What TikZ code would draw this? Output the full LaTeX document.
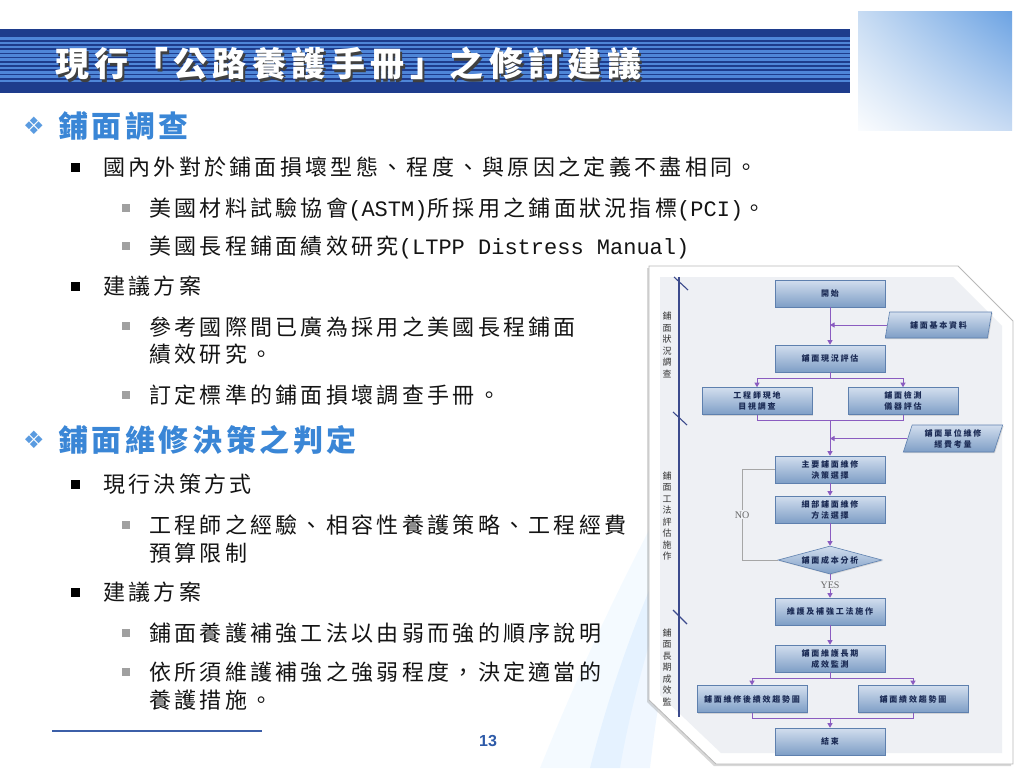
\documentclass[tikz,border=0pt]{standalone}
\usepackage{fontspec}
\usetikzlibrary{arrows.meta,shapes.geometric,shadows,shadings,calc}
\setmainfont{Noto Sans CJK TC}
\newfontfamily\bodyf{Noto Sans CJK TC}[LetterSpace=15]
\newfontfamily\headf{Noto Sans CJK TC}[LetterSpace=12]
\newfontfamily\titlef{Noto Sans CJK TC}[LetterSpace=16]
\newfontfamily\flowf{Noto Sans CJK TC}[LetterSpace=22]
\newfontfamily\monof{Liberation Mono}
\newfontfamily\serf{Liberation Serif}
\newfontfamily\djf{DejaVu Sans}
\newfontfamily\numf{Liberation Sans}
\definecolor{titleblue}{HTML}{1E3C8C}
\definecolor{stripe}{HTML}{4F86D8}
\definecolor{headblue}{HTML}{3A86D6}
\definecolor{bulletblue}{HTML}{5A9BE0}
\definecolor{boxtop}{HTML}{D2DEEE}
\definecolor{boxbot}{HTML}{7E9EC6}
\definecolor{boxline}{HTML}{5E80AE}
\definecolor{flowtext}{HTML}{1B2B55}
\definecolor{flowarrow}{HTML}{8A5CC0}
\definecolor{panel}{HTML}{EEF0F4}
\definecolor{lanecol}{HTML}{3B4A8C}
\definecolor{lineblue}{HTML}{3C5FA8}
\definecolor{numblue}{HTML}{2D5AA8}
\definecolor{bodytext}{HTML}{141414}
\definecolor{graybullet}{HTML}{A0A0A0}
\definecolor{gul}{HTML}{C8DCF3}
\definecolor{gur}{HTML}{6CA3E3}
\definecolor{gll}{HTML}{FAFCFE}
\definecolor{glr}{HTML}{C8DBF3}
\begin{document}
\begin{tikzpicture}[x=1pt,y=-1pt,
  body/.style={anchor=base west, inner sep=0pt, align=left, text=bodytext,
    font=\bodyf\fontsize{22}{27.5}\selectfont},
  head/.style={anchor=base west, inner sep=0pt, text=headblue,
    font=\headf\bfseries\fontsize{30}{30}\selectfont},
  hbullet/.style={inner sep=0pt, text=bulletblue, font=\djf\fontsize{24}{24}\selectfont},
  bbullet/.style={fill=black, minimum size=9pt, inner sep=0pt},
  gbullet/.style={fill=graybullet, minimum size=7.5pt, inner sep=0pt},
  fbox/.style={rectangle, draw=boxline, line width=0.6pt, top color=boxtop, bottom color=boxbot,
    minimum width=110pt, minimum height=27pt, inner sep=0pt, align=center, text=flowtext,
    font=\flowf\bfseries\fontsize{8}{11}\selectfont,
    drop shadow={opacity=0.25, shadow xshift=1pt, shadow yshift=-1pt}},
  fpara/.style={fbox, trapezium, trapezium left angle=72, trapezium right angle=108,
    trapezium stretches=true, minimum height=26pt},
  fdiam/.style={fbox, diamond, aspect=3.7, minimum width=104pt, minimum height=28pt},
  flowline/.style={draw=flowarrow, line width=0.9pt},
  flow/.style={flowline, -{Triangle[width=5pt,length=4.5pt]}},
  noline/.style={draw=gray!70, line width=0.9pt},
  cond/.style={fill=panel, inner sep=1pt, text=gray!80!black, font=\serf\fontsize{10}{10}\selectfont},
  lanetext/.style={align=center, inner sep=0pt, text=black!80, font=\fontsize{9}{11.5}\selectfont},
  lane/.style={draw=lanecol, line width=1.1pt}]
\useasboundingbox (0,0) rectangle (1024,768);
\fill[white] (0,0) rectangle (1024,768);
% faint background swoosh
\fill[blue!40!cyan, opacity=0.045] (540,768) .. controls (600,620) and (660,500) .. (730,390) .. controls (690,520) and (640,650) .. (620,768) -- cycle;
\fill[blue!50!cyan, opacity=0.06] (590,768) .. controls (620,650) and (660,560) .. (700,480) .. controls (680,580) and (660,680) .. (650,768) -- cycle;
% title bar
\fill[titleblue] (0,29) rectangle (850,93);
\foreach \k in {0,...,10} \fill[stripe] (0,{37.5+4.2*\k}) rectangle (850,{40+4.2*\k});
% top right gradient box
\shade[upper left=gul, upper right=gur, lower left=gll, lower right=glr] (858,12) rectangle (1012,130);
% title
\node[anchor=base west, inner sep=0pt, text=black!75, font=\titlef\bfseries\fontsize{34}{34}\selectfont] (titleshadow) at (57,79) {現行「公路養護手冊」之修訂建議};
\node[anchor=base west, inner sep=0pt, text=white, font=\titlef\bfseries\fontsize{34}{34}\selectfont] (title) at (55,77) {現行「公路養護手冊」之修訂建議};
% section 1
\node[hbullet] (hb1) at (34,126) {❖};
\node[head] (h1) at (58,137) {鋪面調查};
\node[bbullet] (b1) at (75,167) {};
\node[body] (t1) at (103,175.5) {國內外對於鋪面損壞型態、程度、與原因之定義不盡相同。};
\node[gbullet] (b2) at (126,208) {};
\node[body] (t2) at (149,216.5) {美國材料試驗協會{\monof(ASTM)}所採用之鋪面狀況指標{\monof(PCI)}。};
\node[gbullet] (b3) at (126,246) {};
\node[body] (t3) at (149,254.5) {美國長程鋪面績效研究{\monof(LTPP Distress Manual)}};
\node[bbullet] (b4) at (75,286) {};
\node[body] (t4) at (103,294.5) {建議方案};
\node[gbullet] (b5) at (126,326) {};
\node[body] (t5) at (149,362.5) {參考國際間已廣為採用之美國長程鋪面\\績效研究。};
\node[gbullet] (b6) at (126,395) {};
\node[body] (t6) at (149,403.5) {訂定標準的鋪面損壞調查手冊。};
% section 2
\node[hbullet] (hb2) at (34,440) {❖};
\node[head] (h2) at (58,451) {鋪面維修決策之判定};
\node[bbullet] (b7) at (75,484) {};
\node[body] (t7) at (103,492.5) {現行決策方式};
\node[gbullet] (b8) at (126,525) {};
\node[body] (t8) at (149,561) {工程師之經驗、相容性養護策略、工程經費\\預算限制};
\node[bbullet] (b9) at (75,592) {};
\node[body] (t9) at (103,600.5) {建議方案};
\node[gbullet] (b10) at (126,633) {};
\node[body] (t10) at (149,641.5) {鋪面養護補強工法以由弱而強的順序說明};
\node[gbullet] (b11) at (126,672) {};
\node[body] (t11) at (149,708) {依所須維護補強之強弱程度，決定適當的\\養護措施。};
% footer
\draw[lineblue, line width=1.2pt] (52,731) -- (262,731);
\node[inner sep=0pt, text=numblue, font=\numf\bfseries\fontsize{16}{16}\selectfont] (pnum) at (488,741) {13};
% flowchart frame
\filldraw[fill=white, draw=gray!55, line width=0.8pt, drop shadow={opacity=0.3, shadow xshift=-2pt, shadow yshift=-2pt}]
  (649,266) -- (958,266) -- (1013,321) -- (1013,764) -- (716,764) -- (649,700) -- cycle;
\fill[panel] (660,277) -- (953,277) -- (1002,326) -- (1002,753) -- (721,753) -- (660,695) -- cycle;
% lanes
\draw[lane] (679,277) -- (679,717);
\draw[lane] (674,277) -- (688,290);
\draw[lane] (673,412) -- (687,425);
\draw[lane] (673,610) -- (687,624);
\node[lanetext] (lane1) at (667,345) {鋪\\面\\狀\\況\\調\\查};
\node[lanetext] (lane2) at (667,516) {鋪\\面\\工\\法\\評\\估\\施\\作};
\node[lanetext] (lane3) at (667,667) {鋪\\面\\長\\期\\成\\效\\監};
% flow nodes
\node[fbox] (start) at (830,293.5) {開始};
\node[fpara, minimum width=107pt] (base) at (938.5,325) {鋪面基本資料};
\node[fbox] (assess) at (830,358.5) {鋪面現況評估};
\node[fbox] (eng) at (757,401) {工程師現地\\目視調查};
\node[fbox] (inst) at (903,401) {鋪面檢測\\儀器評估};
\node[fpara, minimum width=100pt, minimum height=27pt] (budget) at (953,438.5) {鋪面單位維修\\經費考量};
\node[fbox] (main) at (830,469.5) {主要鋪面維修\\決策選擇};
\node[fbox] (detail) at (830,509.5) {細部鋪面維修\\方法選擇};
\node[fdiam] (cost) at (830,560) {鋪面成本分析};
\node[fbox] (impl) at (830,611.5) {維護及補強工法施作};
\node[fbox] (monitor) at (830,658.5) {鋪面維護長期\\成效監測};
\node[fbox] (trend1) at (752,699) {鋪面維修後績效趨勢圖};
\node[fbox] (trend2) at (913,699) {鋪面績效趨勢圖};
\node[fbox] (finish) at (830,741.5) {結束};
% connectors
\coordinate (s1) at (830,378);
\coordinate (m1) at (830,420);
\coordinate (s2) at (830,678);
\coordinate (m2) at (830,718);
\coordinate (nc) at (742,560);
\draw[flow] (start) -- (assess);
\draw[flow] (base.west) -- (base.west -| start);
\draw[flowline] (assess) -- (s1);
\draw[flow] (s1) -| (eng);
\draw[flow] (s1) -| (inst);
\draw[flowline] (eng) |- (m1);
\draw[flowline] (inst) |- (m1);
\draw[flow] (m1) -- (main);
\draw[flow] (budget.west) -- (budget.west -| m1);
\draw[flow] (main) -- (detail);
\draw[flow] (detail) -- (cost);
\draw[flow] (cost) -- node[cond, pos=0.45] (yes) {YES} (impl);
\draw[noline] (cost.west) -- (nc) |- node[cond, pos=0.25] (no) {NO} (main.west);
\draw[flow] (impl) -- (monitor);
\draw[flowline] (monitor) -- (s2);
\draw[flow] (s2) -| (trend1);
\draw[flow] (s2) -| (trend2);
\draw[flowline] (trend1) |- (m2);
\draw[flowline] (trend2) |- (m2);
\draw[flow] (m2) -- (finish);
\end{tikzpicture}
\end{document}
